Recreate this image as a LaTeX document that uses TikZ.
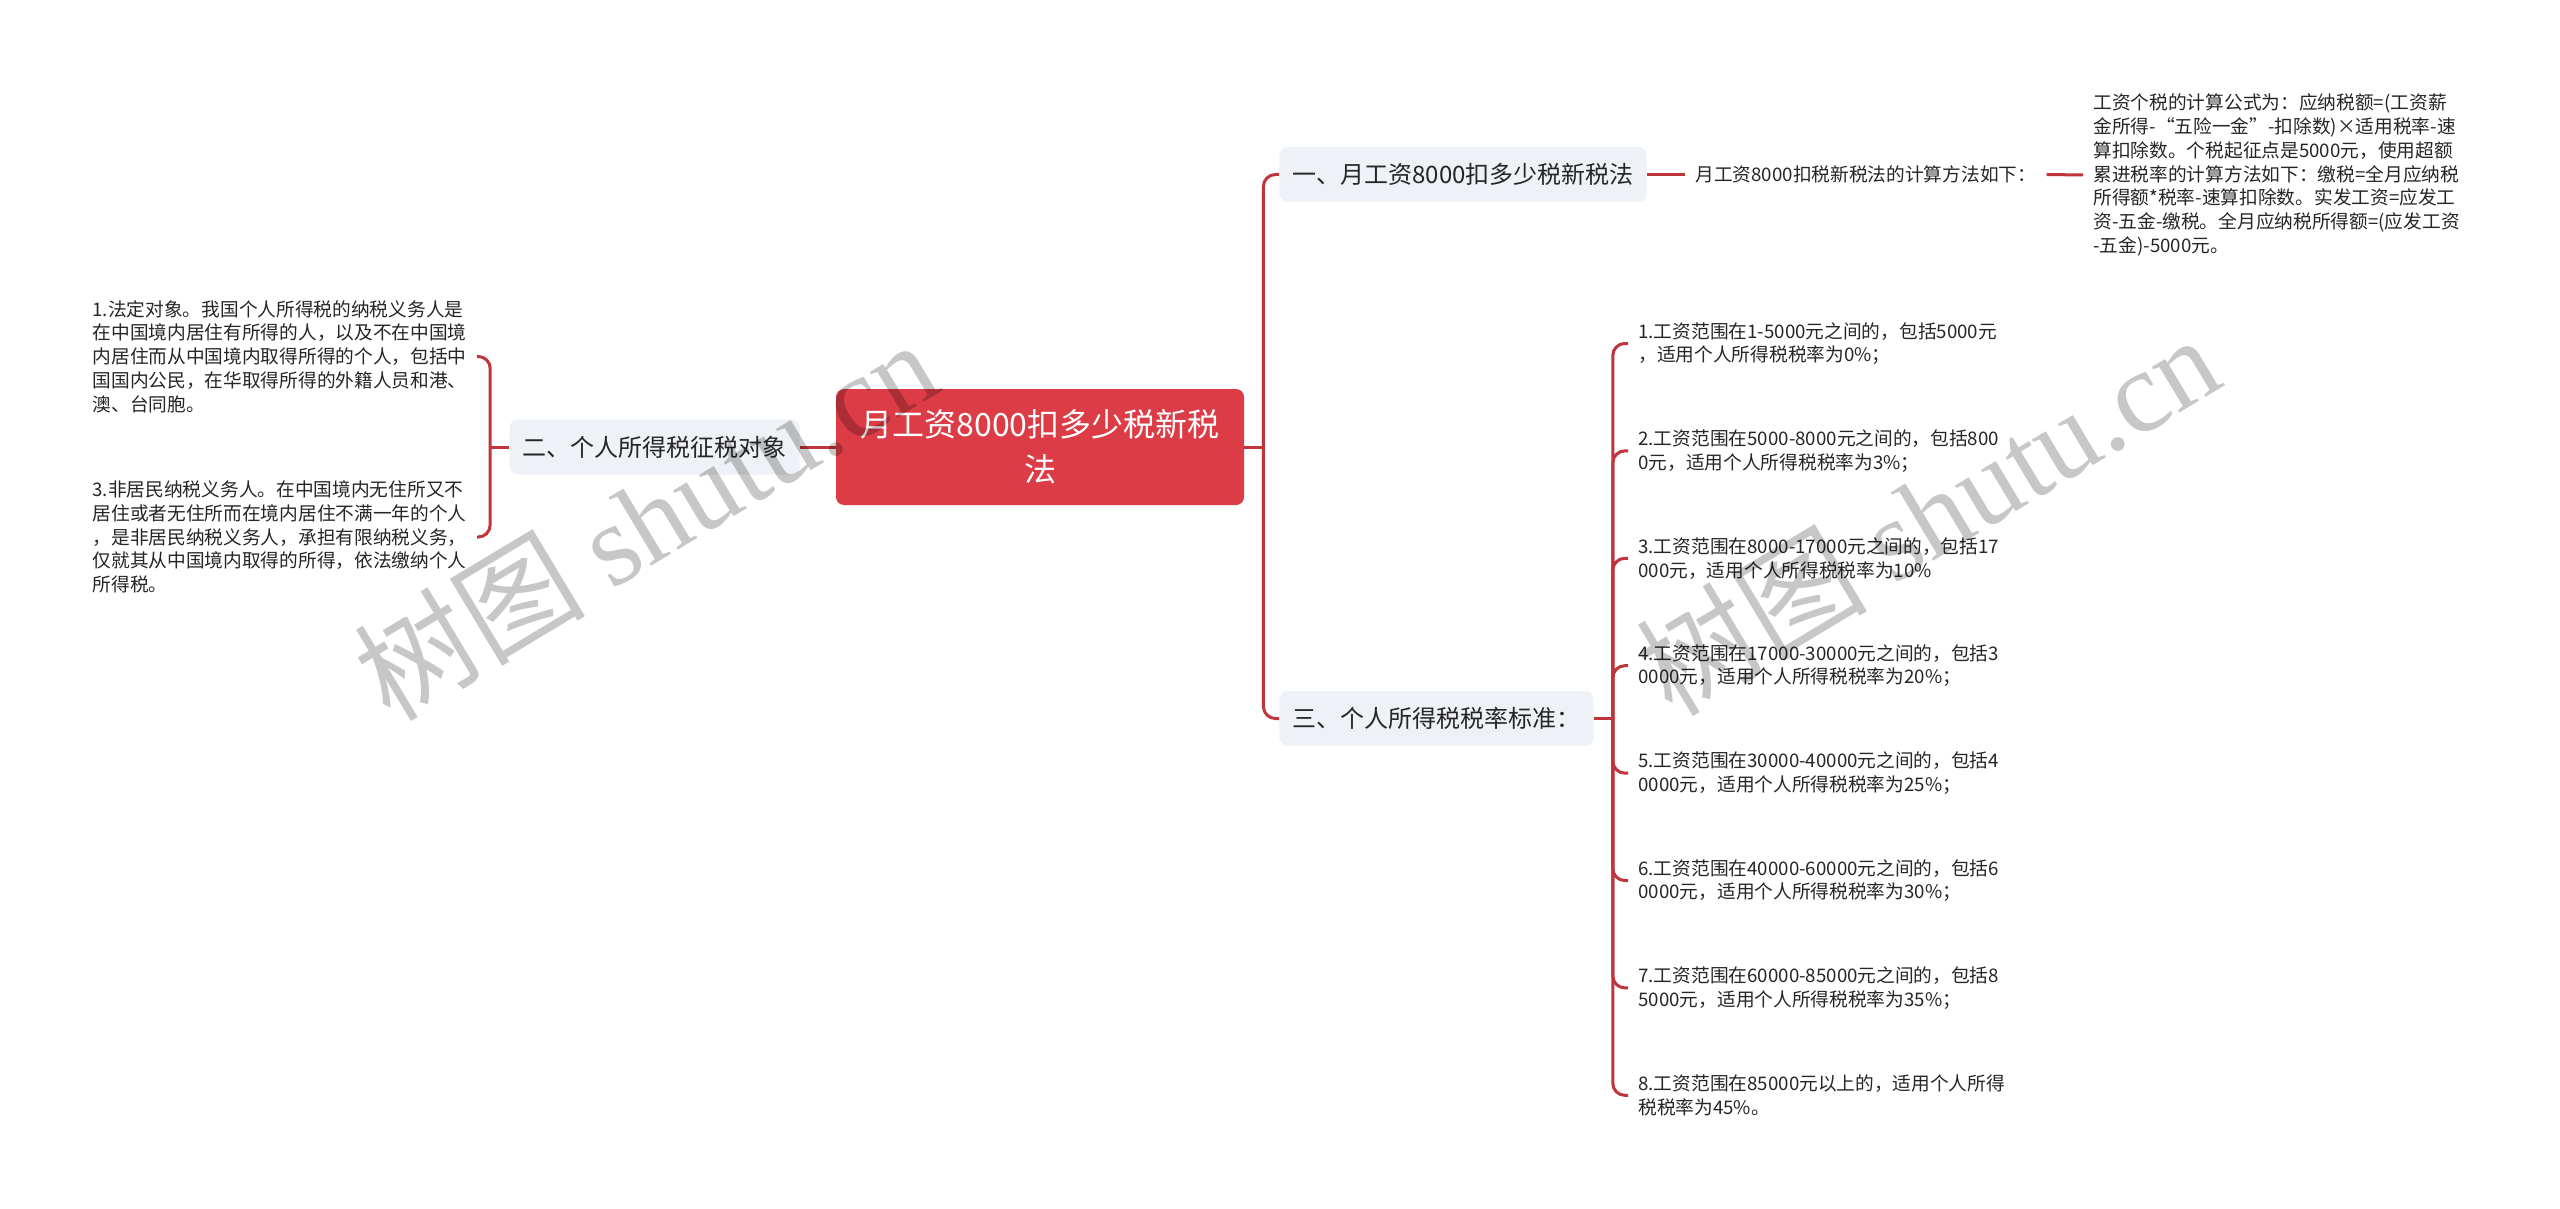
\documentclass[tikz,border=0pt]{standalone}
\usepackage{fontspec}
\setmainfont{Noto Sans CJK SC}
\newfontfamily\wmserif{Liberation Serif}
\definecolor{rootred}{RGB}{220,60,70}
\definecolor{linkred}{RGB}{192,52,60}
\definecolor{topicgray}{RGB}{238,241,245}
\definecolor{inkgray}{RGB}{38,38,38}

\begin{document}
\begin{tikzpicture}[x=50pt, y=50pt,
  mainbox/.style={fill=rootred, rounded corners=4pt, text=white, font=\fontsize{16}{22.5}\selectfont, align=center, minimum width=204pt, minimum height=58pt, inner sep=0pt},
  topicbox/.style={fill=topicgray, rounded corners=4pt, text=inkgray, font=\fontsize{12}{14}\selectfont, minimum height=27.5pt, inner xsep=6.5pt, inner ysep=0pt},
  leafbox/.style={text=inkgray, font=\fontsize{9.35}{11.85}\selectfont, align=left, inner xsep=5pt, inner ysep=2pt},
  linkline/.style={draw=linkred, line width=1.5pt, rounded corners=6pt},
  wmark/.style={text=black, text opacity=.22, rotate=31, font=\fontsize{58}{60}\selectfont}]
			\path[fill=white, use as bounding box] (0,0) rectangle (25.60,-12.09);
			% centre and main topics
			\node[mainbox] (root) at (10.40,-4.47) {月工资8000扣多少税新税\\法};
			\node[topicbox, anchor=west] (n1) at (12.79,-1.745) {一、月工资8000扣多少税新税法};
			\node[topicbox, anchor=east] (n2) at (8.00,-4.47) {二、个人所得税征税对象};
			\node[topicbox, anchor=west] (n3) at (12.79,-7.185) {三、个人所得税税率标准：};
			% branch one
			\node[leafbox, anchor=west] (calc) at (16.85,-1.745) {月工资8000扣税新税法的计算方法如下：};
			\node[leafbox, anchor=west] (formula) at (20.83,-1.75) {工资个税的计算公式为：应纳税额=(工资薪\\金所得-“五险一金”-扣除数)×适用税率-速\\算扣除数。个税起征点是5000元，使用超额\\累进税率的计算方法如下：缴税=全月应纳税\\所得额*税率-速算扣除数。实发工资=应发工\\资-五金-缴税。全月应纳税所得额=(应发工资\\-五金)-5000元。};
			% branch two
			\node[leafbox, anchor=east] (l1) at (4.77,-3.565) {1.法定对象。我国个人所得税的纳税义务人是\\在中国境内居住有所得的人，以及不在中国境\\内居住而从中国境内取得所得的个人，包括中\\国国内公民，在华取得所得的外籍人员和港、\\澳、台同胞。};
			\node[leafbox, anchor=east] (l2) at (4.77,-5.37) {3.非居民纳税义务人。在中国境内无住所又不\\居住或者无住所而在境内居住不满一年的个人\\，是非居民纳税义务人，承担有限纳税义务，\\仅就其从中国境内取得的所得，依法缴纳个人\\所得税。};
			% branch three
			\node[leafbox, anchor=west] (r1) at (16.28,-3.435) {1.工资范围在1-5000元之间的，包括5000元\\，适用个人所得税税率为0\%；};
			\node[leafbox, anchor=west] (r2) at (16.28,-4.509) {2.工资范围在5000-8000元之间的，包括800\\0元，适用个人所得税税率为3\%；};
			\node[leafbox, anchor=west] (r3) at (16.28,-5.583) {3.工资范围在8000-17000元之间的，包括17\\000元，适用个人所得税税率为10\%};
			\node[leafbox, anchor=west] (r4) at (16.28,-6.657) {4.工资范围在17000-30000元之间的，包括3\\0000元，适用个人所得税税率为20\%；};
			\node[leafbox, anchor=west] (r5) at (16.28,-7.731) {5.工资范围在30000-40000元之间的，包括4\\0000元，适用个人所得税税率为25\%；};
			\node[leafbox, anchor=west] (r6) at (16.28,-8.805) {6.工资范围在40000-60000元之间的，包括6\\0000元，适用个人所得税税率为30\%；};
			\node[leafbox, anchor=west] (r7) at (16.28,-9.879) {7.工资范围在60000-85000元之间的，包括8\\5000元，适用个人所得税税率为35\%；};
			\node[leafbox, anchor=west] (r8) at (16.28,-10.953) {8.工资范围在85000元以上的，适用个人所得\\税税率为45\%。};
			% connectors
			\draw[linkline] (root.east) -- ++(0.19,0) coordinate (rj);
			\draw[linkline] (rj) |- (n1.west);
			\draw[linkline] (rj) |- (n3.west);
			\draw[linkline] (root.west) -- (n2.east);
			\draw[linkline] (n2.west) -- ++(-0.19,0) coordinate (lj);
			\draw[linkline] (lj) |- (l1.east);
			\draw[linkline] (lj) |- (l2.east);
			\draw[linkline] (n1.east) -- (calc.west);
			\draw[linkline] (calc.east) -- (formula.west);
			\draw[linkline] (n3.east) -- ++(0.19,0) coordinate (tj);
			\foreach \i in {1,...,8}
				\draw[linkline] (tj) |- (r\i.west);
			% watermark
			\node[wmark] (wm1) at (6.45,-5.19) {树图 {\wmserif shutu.cn}};
			\node[wmark] (wm2) at (19.27,-5.14) {树图 {\wmserif shutu.cn}};
\end{tikzpicture}
\end{document}
